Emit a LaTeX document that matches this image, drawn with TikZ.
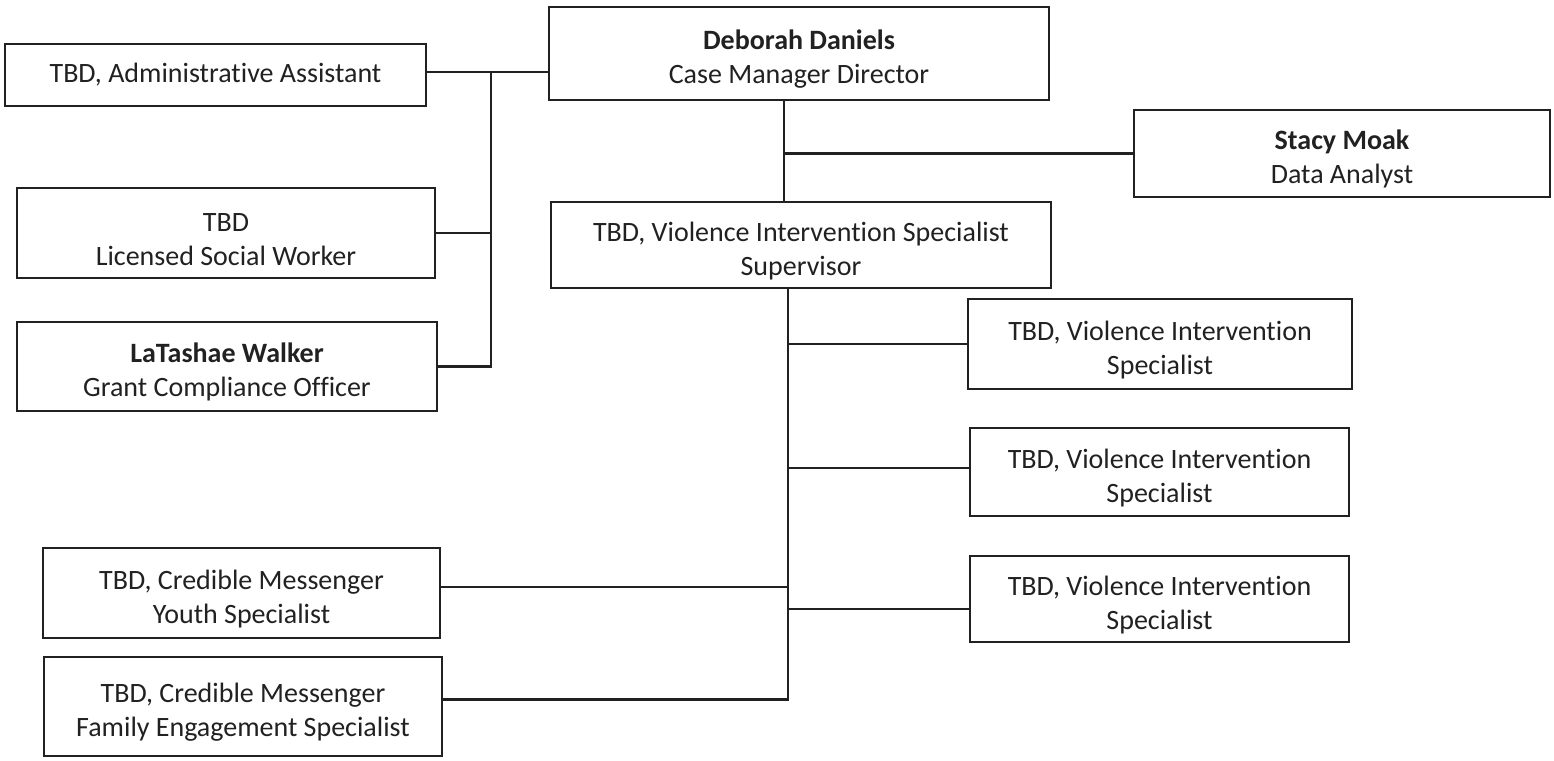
\documentclass[tikz,border=0pt]{standalone}
\usepackage{fontspec}
\setmainfont{Carlito}[Ligatures={NoCommon,NoRare,NoContextual}, Contextuals=NoAlternate, RawFeature={-clig;-calt;-liga}]
\definecolor{ink}{gray}{0.13}
\newcommand\tp{\rule{0pt}{31pt}}
\tikzset{
  box/.style={draw=ink, line width=2.2pt, inner sep=0pt, outer sep=0pt, align=center,
    text=ink, font=\fontsize{28}{34}\selectfont},
  conn/.style={draw=ink, line width=2.2pt}
}
\begin{document}
\begin{tikzpicture}[x=1pt,y=-1pt]
\useasboundingbox[fill=white] (0,0) rectangle (1554,760);
% nodes
\node[box, minimum width=421pt, minimum height=62pt] (admin) at (215.5,75) {TBD, Administrative Assistant};
\node[box, minimum width=500pt, minimum height=93pt] (dd) at (799,53.5) {\tp\textbf{Deborah Daniels}\\Case Manager Director};
\node[box, minimum width=416pt, minimum height=87pt] (stacy) at (1342,153.5) {\tp\textbf{Stacy Moak}\\Data Analyst};
\node[box, minimum width=418pt, minimum height=90pt] (lsw) at (226,233) {\tp TBD\\Licensed Social Worker};
\node[box, minimum width=420pt, minimum height=89pt] (walker) at (227,366.5) {\tp\textbf{LaTashae Walker}\\Grant Compliance Officer};
\node[box, minimum width=500pt, minimum height=86pt] (sup) at (801,245) {\tp TBD, Violence Intervention Specialist\\Supervisor};
\node[box, minimum width=384pt, minimum height=90pt] (vis1) at (1160,344) {\tp TBD, Violence Intervention\\Specialist};
\node[box, minimum width=379pt, minimum height=88pt] (vis2) at (1159.5,472) {\tp TBD, Violence Intervention\\Specialist};
\node[box, minimum width=379pt, minimum height=86pt] (vis3) at (1159.5,599) {\tp TBD, Violence Intervention\\Specialist};
\node[box, minimum width=397pt, minimum height=90pt] (youth) at (241.5,593) {\tp TBD, Credible Messenger\\Youth Specialist};
\node[box, minimum width=398pt, minimum height=99pt] (family) at (243,706.5) {\tp TBD, Credible Messenger\\Family Engagement Specialist};
% junction columns
\coordinate (aj) at (491,72);
\coordinate (dj) at (784,0);
\coordinate (sj) at (788,0);
% connectors
\draw[conn] ([yshift=3pt]admin.east) -- ([yshift=3pt]admin.east -| dd.west);
\draw[conn] (aj) -- (aj |- walker.east) -- (walker.east);
\draw[conn] (lsw.east) -- (lsw.east -| aj);
\draw[conn] (dd.south -| dj) -- (sup.north -| dj);
\draw[conn] (stacy.west) -- (stacy.west -| dj);
\draw[conn] (sup.south -| sj) -- ([yshift=7pt]family.east -| sj) -- ([yshift=7pt]family.east);
\draw[conn] (vis1.west) -- (vis1.west -| sj);
\draw[conn] ([yshift=4pt]vis2.west) -- ([yshift=4pt]vis2.west -| sj);
\draw[conn] ([yshift=-10pt]vis3.west) -- ([yshift=-10pt]vis3.west -| sj);
\draw[conn] ([yshift=6pt]youth.east) -- ([yshift=6pt]youth.east -| sj);
\end{tikzpicture}
\end{document}
